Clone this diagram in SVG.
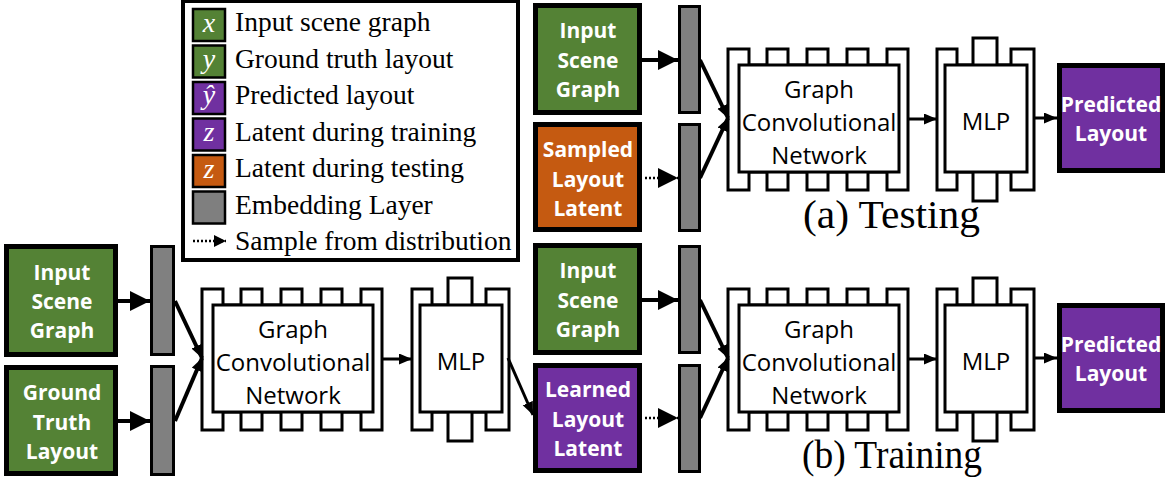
<svg xmlns="http://www.w3.org/2000/svg" xmlns:xlink="http://www.w3.org/1999/xlink" width="1166" height="480" viewBox="0 0 1166 480">
<style>
.box{stroke:#000;stroke-width:5}
.green{fill:#548235}.purple{fill:#7030A0}.orange{fill:#C55A11}
.bar{fill:#808080;stroke:#000;stroke-width:3}
.bt{font-family:"Open Sans","Liberation Sans",sans-serif;font-weight:bold;font-size:21px;fill:#fff;text-anchor:middle}
.nt{font-family:"Open Sans","Liberation Sans",sans-serif;font-size:24px;fill:#000;text-anchor:middle}
.shape{fill:#fff;stroke:#000;stroke-width:3}
.lg{font-family:"Liberation Serif","Times New Roman",serif;font-size:27.5px;fill:#000}
.sw{stroke:#000;stroke-width:2.5}
.swt{font-family:"Liberation Serif","Times New Roman",serif;font-style:italic;font-size:28px;fill:#fff;text-anchor:middle}
.cap{font-family:"Liberation Serif","Times New Roman",serif;font-size:39px;fill:#000}
.a{stroke:#000;stroke-width:4;fill:none}
.as{stroke:#000;stroke-width:3;fill:none}
.d{stroke:#000;stroke-width:2.5;fill:none;stroke-dasharray:2 2}
</style>
<defs>
<marker id="big" markerUnits="userSpaceOnUse" markerWidth="22" markerHeight="22" refX="20" refY="10" orient="auto"><path d="M0,0 L20,10 L0,20 Z" fill="#000"/></marker>
<marker id="sm" markerUnits="userSpaceOnUse" markerWidth="14" markerHeight="12" refX="13" refY="5.5" orient="auto"><path d="M0,0 L13,5.5 L0,11 Z" fill="#000"/></marker>
<marker id="lgm" markerUnits="userSpaceOnUse" markerWidth="14" markerHeight="14" refX="12" refY="6" orient="auto"><path d="M0,0 L12,6 L0,12 Z" fill="#000"/></marker>
<g id="gcnShape">
<path class="shape" d="M0,141 V0 H21 V16 H39 V0 H60 V16 H79 V0 H100 V16 H119 V0 H140 V16 H159 V0 H180 V141 H159 V123 H140 V141 H119 V123 H100 V141 H79 V123 H60 V141 H39 V123 H21 V141 Z"/>
<rect class="shape" x="11" y="16" width="160" height="107"/>
</g>
<g id="mlpShape">
<path class="shape" d="M0,141 V0 H20 V16 H36 V-11 H60 V16 H74 V0 H97 V141 H74 V123 H60 V152 H36 V123 H20 V141 Z"/>
<rect class="shape" x="8" y="16" width="82" height="107"/>
</g>
</defs>

<g id="legend">
<rect x="183" y="1" width="335" height="259" fill="#fff" stroke="#000" stroke-width="4"/>
<rect class="sw green" x="193" y="9" width="32" height="32"/>
<text class="swt" x="209" y="32">x</text>
<text class="lg" x="235" y="31">Input scene graph</text>
<rect class="sw green" x="193" y="45.5" width="32" height="32"/>
<text class="swt" x="209" y="68">y</text>
<text class="lg" x="235" y="67.5">Ground truth layout</text>
<rect class="sw purple" x="193" y="82" width="32" height="32"/>
<text class="swt" x="209" y="104">ŷ</text>
<text class="lg" x="235" y="104">Predicted layout</text>
<rect class="sw purple" x="193" y="118.5" width="32" height="32"/>
<text class="swt" x="209" y="141">z</text>
<text class="lg" x="235" y="140.5">Latent during training</text>
<rect class="sw orange" x="193" y="155" width="32" height="32"/>
<text class="swt" x="209" y="177.5">z</text>
<text class="lg" x="235" y="177">Latent during testing</text>
<rect class="sw" fill="#7F7F7F" x="193" y="191.5" width="32" height="32"/>
<text class="lg" x="235" y="213.5">Embedding Layer</text>
<line class="d" x1="193" y1="241" x2="226" y2="241" stroke-width="2" marker-end="url(#lgm)"/>
<text class="lg" x="235" y="250">Sample from distribution</text>
</g>

<!-- Bottom-left (training encoder) -->
<g id="b_input">
<rect class="box green" x="6.5" y="246.5" width="109" height="108"/>
<text class="bt" x="62" y="280">Input</text>
<text class="bt" x="62" y="309">Scene</text>
<text class="bt" x="62" y="338">Graph</text>
</g>
<g id="b_gt">
<rect class="box green" x="6.5" y="367.5" width="109" height="106"/>
<text class="bt" x="62" y="400">Ground</text>
<text class="bt" x="62" y="430">Truth</text>
<text class="bt" x="62" y="459">Layout</text>
</g>
<g id="b_emb1"><rect class="bar" x="151.5" y="246.5" width="22" height="108"/></g>
<g id="b_emb2"><rect class="bar" x="151.5" y="366.5" width="22" height="108"/></g>
<g id="b_gcn">
<use xlink:href="#gcnShape" transform="translate(202,289)"/>
<text class="nt" x="293" y="338">Graph</text>
<text class="nt" x="293" y="371">Convolutional</text>
<text class="nt" x="293" y="404">Network</text>
</g>
<g id="b_mlp">
<use xlink:href="#mlpShape" transform="translate(412,289)"/>
<text class="nt" x="461" y="370">MLP</text>
</g>

<!-- Top (testing) -->
<g id="t_input">
<rect class="box green" x="535.5" y="5.5" width="104" height="107"/>
<text class="bt" x="588" y="38">Input</text>
<text class="bt" x="588" y="68">Scene</text>
<text class="bt" x="588" y="97">Graph</text>
</g>
<g id="t_sampled">
<rect class="box orange" x="535.5" y="124.5" width="104" height="105"/>
<text class="bt" x="588" y="157">Sampled</text>
<text class="bt" x="588" y="187">Layout</text>
<text class="bt" x="588" y="216">Latent</text>
</g>
<g id="t_emb1"><rect class="bar" x="679.5" y="6.5" width="20" height="106"/></g>
<g id="t_emb2"><rect class="bar" x="679.5" y="124.5" width="20" height="106"/></g>
<g id="t_gcn">
<use xlink:href="#gcnShape" transform="translate(728,49)"/>
<text class="nt" x="819" y="98">Graph</text>
<text class="nt" x="819" y="131">Convolutional</text>
<text class="nt" x="819" y="164">Network</text>
</g>
<g id="t_mlp">
<use xlink:href="#mlpShape" transform="translate(937,49)"/>
<text class="nt" x="986" y="130">MLP</text>
</g>
<g id="t_pred">
<rect class="box purple" x="1059.5" y="65.5" width="103" height="105"/>
<text class="bt" x="1111" y="112">Predicted</text>
<text class="bt" x="1111" y="141">Layout</text>
</g>
<text class="cap" x="803" y="228" textLength="177" lengthAdjust="spacingAndGlyphs">(a) Testing</text>

<!-- Bottom-right (training decoder) -->
<g id="m_input">
<rect class="box green" x="535.5" y="245.5" width="104" height="107"/>
<text class="bt" x="588" y="278">Input</text>
<text class="bt" x="588" y="308">Scene</text>
<text class="bt" x="588" y="337">Graph</text>
</g>
<g id="m_learned">
<rect class="box purple" x="535.5" y="365.5" width="104" height="105"/>
<text class="bt" x="588" y="397">Learned</text>
<text class="bt" x="588" y="427">Layout</text>
<text class="bt" x="588" y="456">Latent</text>
</g>
<g id="m_emb1"><rect class="bar" x="679.5" y="246.5" width="20" height="106"/></g>
<g id="m_emb2"><rect class="bar" x="679.5" y="365.5" width="20" height="106"/></g>
<g id="m_gcn">
<use xlink:href="#gcnShape" transform="translate(728,289)"/>
<text class="nt" x="819" y="338">Graph</text>
<text class="nt" x="819" y="371">Convolutional</text>
<text class="nt" x="819" y="404">Network</text>
</g>
<g id="m_mlp">
<use xlink:href="#mlpShape" transform="translate(937,289)"/>
<text class="nt" x="986" y="370">MLP</text>
</g>
<g id="m_pred">
<rect class="box purple" x="1059.5" y="305.5" width="103" height="105"/>
<text class="bt" x="1111" y="352">Predicted</text>
<text class="bt" x="1111" y="381">Layout</text>
</g>
<text class="cap" x="802" y="468" textLength="180" lengthAdjust="spacingAndGlyphs">(b) Training</text>

<g id="connectors">
<!-- bottom-left -->
<line class="a" x1="118" y1="301" x2="150" y2="301" marker-end="url(#big)"/>
<line class="a" x1="118" y1="421" x2="150" y2="421" marker-end="url(#big)"/>
<line class="a" x1="175" y1="301" x2="202" y2="358" marker-end="url(#sm)"/>
<line class="a" x1="175" y1="421" x2="202" y2="358" marker-end="url(#sm)"/>
<line class="as" x1="382" y1="359" x2="412" y2="359" marker-end="url(#sm)"/>
<line class="as" x1="508" y1="358" x2="533" y2="415" marker-end="url(#sm)"/>
<!-- top -->
<line class="a" x1="642" y1="60" x2="678" y2="60" marker-end="url(#big)"/>
<line class="d" x1="645" y1="178" x2="678" y2="178" marker-end="url(#big)"/>
<line class="a" x1="700" y1="60" x2="728" y2="118" marker-end="url(#sm)"/>
<line class="a" x1="700" y1="178" x2="728" y2="118" marker-end="url(#sm)"/>
<line class="as" x1="908" y1="119" x2="937" y2="119" marker-end="url(#sm)"/>
<line class="as" x1="1034" y1="118" x2="1057" y2="118" marker-end="url(#sm)"/>
<!-- bottom-right -->
<line class="a" x1="642" y1="300" x2="678" y2="300" marker-end="url(#big)"/>
<line class="d" x1="645" y1="418" x2="678" y2="418" marker-end="url(#big)"/>
<line class="a" x1="700" y1="300" x2="728" y2="358" marker-end="url(#sm)"/>
<line class="a" x1="700" y1="418" x2="728" y2="358" marker-end="url(#sm)"/>
<line class="as" x1="908" y1="359" x2="937" y2="359" marker-end="url(#sm)"/>
<line class="as" x1="1034" y1="358" x2="1057" y2="358" marker-end="url(#sm)"/>
</g>
</svg>
